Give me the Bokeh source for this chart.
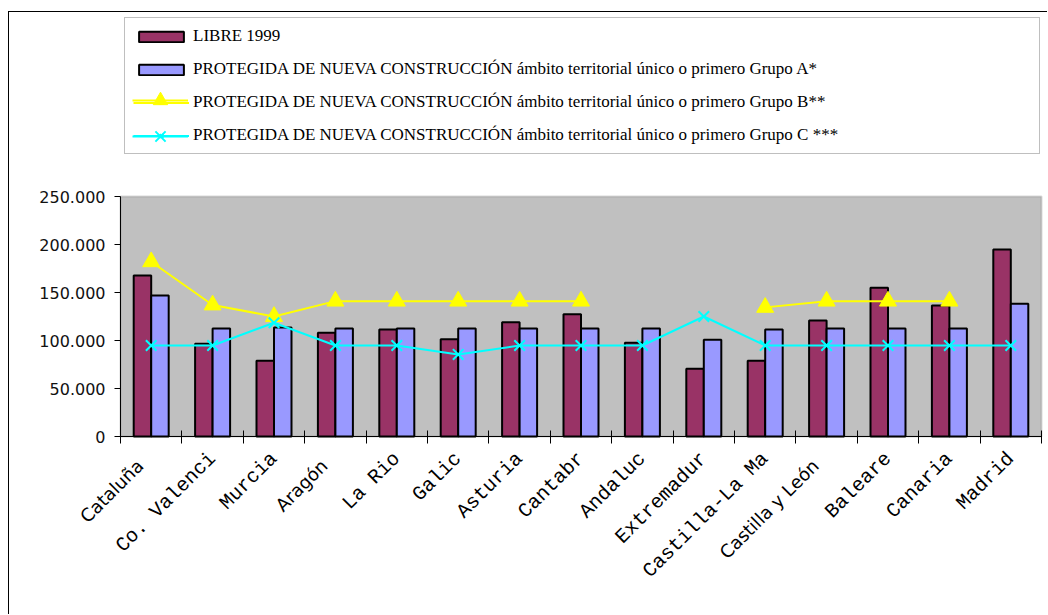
import numpy as np
from bokeh.plotting import figure
from bokeh.models import (Range1d, FixedTicker, Legend, LegendItem, LinearAxis,
                          BoxAnnotation)
from bokeh.embed import file_html
from bokeh.resources import INLINE

# ---------------- data ----------------
categories = ["Cataluña", "Co. Valenci", "Murcia", "Aragón", "La Rio", "Galic",
              "Asturia", "Cantabr", "Andaluc", "Extremadur", "Castilla-La Ma",
              "Castilla y León", "Baleare", "Canaria", "Madrid"]
sans_labels = ["Cataluña", "Aragón", "Castilla y León"]

libre_1999 = [167700, 96500, 79000, 108000, 111500, 101400, 119100, 127400,
              97600, 70500, 78800, 120800, 154900, 136500, 194800]
protegida_a = [147000, 112500, 113500, 112500, 112500, 112500, 112500, 112500,
               112500, 100700, 111500, 112500, 112500, 112500, 138200]
protegida_b = [182000, 137000, 125000, 141000, 141000, 141000, 141000, 141000,
               np.nan, np.nan, 134500, 141000, 141000, 141000, np.nan]
protegida_c = [94800, 94800, 118500, 94800, 94800, 85500, 94800, 94800,
               94800, 125000, 94800, 94800, 94800, 94800, 94800]

y_ticks = [0, 50000, 100000, 150000, 200000, 250000]
y_tick_labels = ["0", "50.000", "100.000", "150.000", "200.000", "250.000"]

series_names = [
    "LIBRE 1999",
    "PROTEGIDA DE NUEVA CONSTRUCCIÓN ámbito territorial único o primero Grupo A*",
    "PROTEGIDA DE NUEVA CONSTRUCCIÓN ámbito territorial único o primero Grupo B**",
    "PROTEGIDA DE NUEVA CONSTRUCCIÓN ámbito territorial único o primero Grupo C ***",
]

# styles
LIBRE_COLOR = "#993366"
A_COLOR = "#9999FF"
B_COLOR = "#FFFF00"
C_COLOR = "#00FFFF"

n = len(categories)
y_max = y_ticks[-1]
centers = np.arange(n) + 0.5
bar_w = 0.285

# ---------------- geometry (pixels on the canvas) ----------------
W, H = 1039, 603                 # canvas (window minus outer border offset)
plot_left, plot_right = 111, 1032
plot_top, plot_bottom = 184, 424
x_per_px = n / (plot_right - plot_left)
y_per_px = y_max / (plot_bottom - plot_top)
x_range = Range1d(-plot_left * x_per_px, n + (W - plot_right) * x_per_px)
y_range = Range1d(-(H - plot_bottom) * y_per_px, y_max + plot_top * y_per_px)

p = figure(width=W, height=H, output_backend="svg", toolbar_location=None,
           x_range=x_range, y_range=y_range,
           min_border=0, min_border_left=0, min_border_right=0,
           min_border_top=0, min_border_bottom=0,
           background_fill_color="white", border_fill_color="white",
           outline_line_color=None)
p.styles = {"margin-left": "8px", "margin-top": "11px",
            "border-left": "1px solid black", "border-top": "1px solid black"}
p.xgrid.visible = False
p.ygrid.visible = False

# plot area
p.add_layout(BoxAnnotation(left=0, right=n, bottom=0, top=y_max,
                           fill_color="#C0C0C0", fill_alpha=1,
                           line_color="#808080", line_width=2,
                           level="underlay"))

r_libre = p.vbar(x=centers - bar_w / 2, width=bar_w, top=libre_1999, bottom=0,
                 fill_color=LIBRE_COLOR, line_color="black", line_width=2)
r_a = p.vbar(x=centers + bar_w / 2, width=bar_w, top=protegida_a, bottom=0,
             fill_color=A_COLOR, line_color="black", line_width=2)
r_b_line = p.line(centers, protegida_b, line_color=B_COLOR, line_width=2)
r_b_mark = p.scatter(centers, protegida_b, marker="triangle", size=17,
                     fill_color=B_COLOR, line_color=B_COLOR)
r_c_line = p.line(centers, protegida_c, line_color=C_COLOR, line_width=2)
r_c_mark = p.scatter(centers, protegida_c, marker="x", size=15,
                     line_color=C_COLOR, line_width=2)

# x axis (monospace labels)
xa = p.xaxis[0]
xa.fixed_location = 0
xa.bounds = (0, n)
xa.ticker = FixedTicker(ticks=list(centers), minor_ticks=list(range(n + 1)))
xa.major_label_overrides = {float(c): ("" if lab in sans_labels else lab)
                            for c, lab in zip(centers, categories)}
xa.major_label_orientation = np.pi / 4
xa.major_label_text_font = "Liberation Mono"
xa.major_label_text_font_size = "20px"
xa.major_label_text_color = "black"
xa.major_tick_line_color = None
xa.minor_tick_line_color = "black"
xa.minor_tick_in = 6
xa.minor_tick_out = 7
xa.axis_line_color = "black"
xa.major_label_standoff = 12

# x axis labels in a sans font
sans_pos = [float(centers[categories.index(l)]) - 0.18 for l in sans_labels]
xs = LinearAxis(fixed_location=0, bounds=(0, n),
                ticker=FixedTicker(ticks=sans_pos, minor_ticks=[]),
                major_label_overrides={c: l for c, l in zip(sans_pos, sans_labels)},
                major_label_orientation=np.pi / 4,
                major_label_text_font="DejaVu Sans",
                major_label_text_font_size="18px",
                major_label_text_color="black",
                major_tick_line_color=None, major_tick_out=0, major_tick_in=0,
                minor_tick_line_color=None,
                axis_line_color=None, major_label_standoff=26)
p.add_layout(xs, "below")

# y axis
ya = p.yaxis[0]
ya.fixed_location = 0
ya.bounds = (0, y_max)
ya.ticker = FixedTicker(ticks=y_ticks)
ya.major_label_overrides = {t: s for t, s in zip(y_ticks, y_tick_labels)}
ya.major_label_text_font = "DejaVu Sans"
ya.major_label_text_font_size = "16px"
ya.major_label_text_color = "#111111"
ya.major_tick_in = 0
ya.major_tick_out = 6
ya.minor_tick_line_color = None
ya.axis_line_color = "black"
ya.major_label_standoff = 9

# legend (bottom-left corner given from the canvas bottom-left)
legend = Legend(items=[
    LegendItem(label=series_names[0], renderers=[r_libre]),
    LegendItem(label=series_names[1], renderers=[r_a]),
    LegendItem(label=series_names[2], renderers=[r_b_line, r_b_mark]),
    LegendItem(label=series_names[3], renderers=[r_c_line, r_c_mark]),
], location=(115, 461), orientation="vertical",
    label_text_font="Liberation Serif", label_text_font_size="17px",
    label_text_color="black",
    glyph_width=56, glyph_height=13, label_standoff=4, label_width=838,
    label_height=20, spacing=13, padding=8, margin=0,
    border_line_color="#808080", border_line_width=1,
    background_fill_color="white", background_fill_alpha=1)
p.add_layout(legend)

# taller glyph boxes for the two line series so their markers show full size
legend_marks = Legend(items=[
    LegendItem(label=" ", renderers=[r_b_line, r_b_mark]),
    LegendItem(label=" ", renderers=[r_c_line, r_c_mark]),
], location=(123, 461), orientation="vertical",
    label_text_font_size="1px", glyph_width=56, glyph_height=36,
    label_standoff=0, label_width=0, label_height=1, spacing=-3, padding=0,
    margin=0, border_line_color=None, background_fill_alpha=0)
p.add_layout(legend_marks)

open("out.html", "w").write(file_html(p, INLINE))
